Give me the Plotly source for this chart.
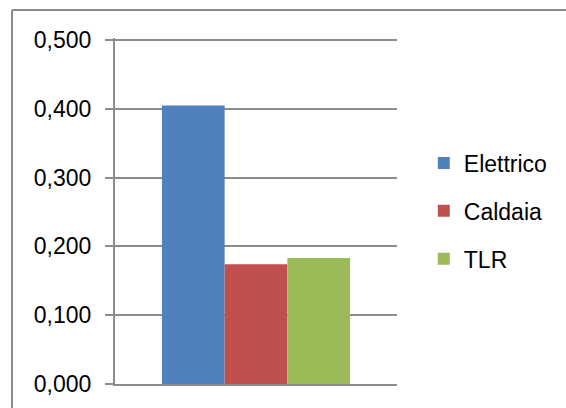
import plotly.graph_objects as go

categories = [""]
series_names = ["Elettrico", "Caldaia", "TLR"]
series_values = [[0.405], [0.174], [0.183]]
colors = ["#4F81BD", "#C0504D", "#9BBB59"]
y_ticks = [0.0, 0.1, 0.2, 0.3, 0.4, 0.5]
y_tick_labels = ["0,000", "0,100", "0,200", "0,300", "0,400", "0,500"]

FONT = "Liberation Sans"
GRID = "#8c8c8c"

fig = go.Figure()
for name, vals, col in zip(series_names, series_values, colors):
    fig.add_trace(go.Bar(x=categories, y=vals, name=name, marker=dict(color=col, line=dict(width=0)),
                         legendgroup=name))

fig.update_layout(
    width=566, height=408,
    margin=dict(l=115, r=169, t=38, b=24, pad=0),
    paper_bgcolor="white", plot_bgcolor="white",
    barmode="group", bargap=0.333, bargroupgap=0,
    font=dict(family=FONT, size=23, color="black"),
    showlegend=True,
    legend=dict(x=1.095, y=0.5, xanchor="left", yanchor="middle",
                font=dict(family=FONT, size=23, color="black"),
                tracegroupgap=15, bgcolor="rgba(0,0,0,0)"),
    xaxis=dict(showticklabels=False, showgrid=False, zeroline=False,
               showline=True, linecolor=GRID, linewidth=2, ticks=""),
    yaxis=dict(range=[0, 0.503], tickvals=y_ticks, ticktext=y_tick_labels,
               showgrid=True, gridcolor=GRID, gridwidth=2,
               zeroline=False, showline=True, linecolor=GRID, linewidth=2,
               ticks="outside", ticklen=8, tickcolor=GRID, tickwidth=2,
               ticklabelstandoff=9),
    shapes=[
        dict(type="line", xref="paper", yref="paper", x0=(12-115)/282, x1=(12-115)/282,
             y0=(384-10)/346, y1=-1, line=dict(color="#8c8c8c", width=2)),
        dict(type="line", xref="paper", yref="paper", x0=(12-115)/282, x1=(570-115)/282,
             y0=(384-10)/346, y1=(384-10)/346, line=dict(color="#8c8c8c", width=2)),
    ],
)

fig.write_html("out.html")
